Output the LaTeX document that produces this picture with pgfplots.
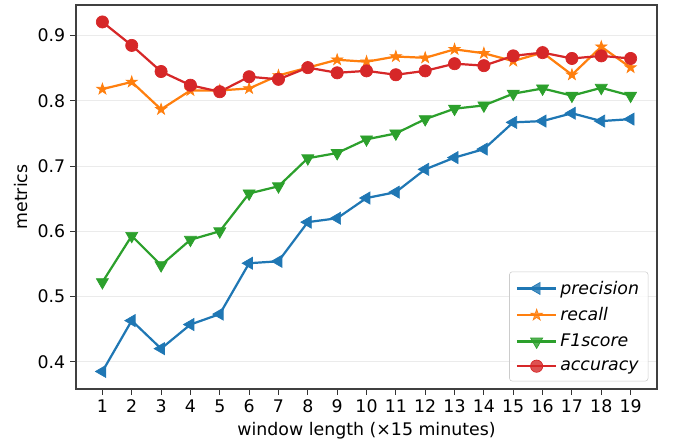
\documentclass[border=0pt]{standalone}
\usepackage{pgfplots}
\pgfplotsset{compat=1.18}
\usepackage{fontspec}
\setmainfont{DejaVu Sans}
\usetikzlibrary{calc}
\definecolor{c0}{HTML}{1F77B4}
\definecolor{c1}{HTML}{FF7F0E}
\definecolor{c2}{HTML}{2CA02C}
\definecolor{c3}{HTML}{D62728}
\pgfdeclareplotmark{fstar}{%
  \pgfpathmoveto{\pgfpointpolar{90}{1.25\pgfplotmarksize}}%
  \pgfpathlineto{\pgfpointpolar{126}{0.48\pgfplotmarksize}}%
  \pgfpathlineto{\pgfpointpolar{162}{1.25\pgfplotmarksize}}%
  \pgfpathlineto{\pgfpointpolar{198}{0.48\pgfplotmarksize}}%
  \pgfpathlineto{\pgfpointpolar{234}{1.25\pgfplotmarksize}}%
  \pgfpathlineto{\pgfpointpolar{270}{0.48\pgfplotmarksize}}%
  \pgfpathlineto{\pgfpointpolar{306}{1.25\pgfplotmarksize}}%
  \pgfpathlineto{\pgfpointpolar{342}{0.48\pgfplotmarksize}}%
  \pgfpathlineto{\pgfpointpolar{18}{1.25\pgfplotmarksize}}%
  \pgfpathlineto{\pgfpointpolar{54}{0.48\pgfplotmarksize}}%
  \pgfpathclose
  \pgfusepathqfillstroke
}
\pgfplotstableread{
x prec rec f1 acc
1 0.385 0.818 0.522 0.921
2 0.463 0.829 0.593 0.885
3 0.420 0.787 0.548 0.845
4 0.457 0.816 0.587 0.824
5 0.473 0.816 0.600 0.814
6 0.551 0.819 0.658 0.837
7 0.554 0.839 0.669 0.833
8 0.614 0.851 0.712 0.851
9 0.620 0.863 0.720 0.843
10 0.651 0.860 0.741 0.846
11 0.660 0.868 0.750 0.840
12 0.695 0.866 0.772 0.846
13 0.713 0.879 0.788 0.857
14 0.726 0.873 0.793 0.854
15 0.767 0.861 0.811 0.869
16 0.769 0.874 0.819 0.874
17 0.781 0.840 0.808 0.865
18 0.769 0.883 0.820 0.869
19 0.772 0.851 0.808 0.865
}\datatable
\begin{document}
\begin{tikzpicture}
\begin{axis}[
  name=ax,
  scale only axis,
  width=418.3pt, height=276.5pt,
  xmin=0.1, xmax=19.9, ymin=0.358, ymax=0.947,
  xtick={1,...,19},
  ytick={0.4,0.5,0.6,0.7,0.8,0.9},
  yticklabel style={/pgf/number format/.cd,fixed,fixed zerofill,precision=1},
  /pgf/number format/assume math mode=true,
  tick label style={font=\fontsize{12.5}{14}\selectfont},
  label style={font=\fontsize{12.5}{14}\selectfont},
  xticklabel style={inner xsep=0pt},
  xlabel={window length (×15 minutes)},
  ylabel={metrics},
  tick align=outside,
  tick pos=left,
  major tick length=4.2pt,
  every tick/.style={black!80, line width=0.7pt},
  axis line style={black!75, line width=1.1pt},
  ymajorgrids,
  grid style={black!8, line width=0.7pt},
  legend pos=south east,
  legend cell align=left,
  legend style={font=\fontsize{12.5}{14}\selectfont\itshape, draw=black!20, rounded corners=2pt, fill=white, fill opacity=0.8, text opacity=1, row sep=4.2pt, inner sep=4.5pt, at={(0.985,0.02)}},
  legend image code/.code={\draw[line width=1.6pt, mark repeat=2, mark phase=2] plot coordinates {(0cm,0cm) (0.5cm,0cm) (1.0cm,0cm)};},
  every axis plot/.append style={line width=1.6pt, mark size=5pt},
]
\addplot[color=c0, mark=triangle*, mark options={rotate=90, line width=0.5pt}] table[x=x,y=prec]{\datatable};
\addlegendentry{precision}
\addplot[color=c1, mark=fstar, mark options={line width=0.5pt, mark size=3.4pt}] table[x=x,y=rec]{\datatable};
\addlegendentry{recall}
\addplot[color=c2, mark=triangle*, mark options={rotate=180, line width=0.5pt}] table[x=x,y=f1]{\datatable};
\addlegendentry{F1score}
\addplot[color=c3, mark=*, mark options={line width=0.5pt, mark size=4.4pt}] table[x=x,y=acc]{\datatable};
\addlegendentry{accuracy}
\end{axis}
\pgfresetboundingbox
\path[use as bounding box] ($(ax.south west)+(-54.7pt,-41.8pt)$) rectangle ($(ax.north east)+(11.5pt,3.6pt)$);
\end{tikzpicture}
\end{document}
